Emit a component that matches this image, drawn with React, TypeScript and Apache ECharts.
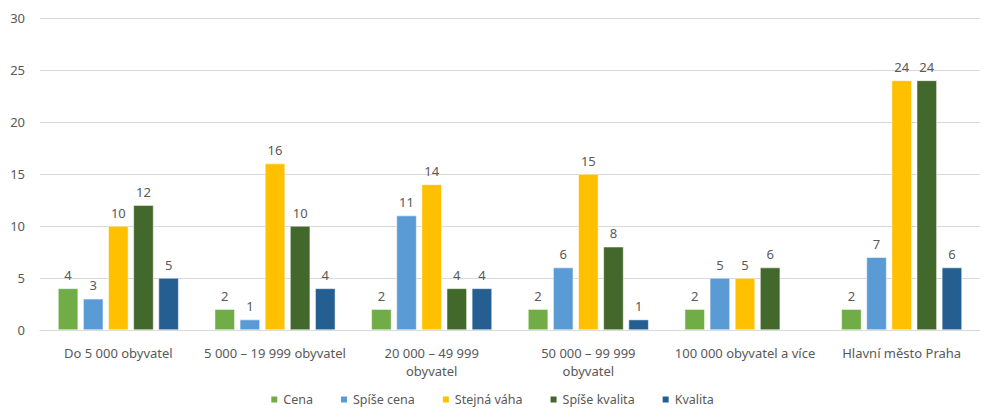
import React, { useEffect, useRef } from "react";
import * as echarts from "echarts";

const categories = [
  "Do 5 000 obyvatel",
  "5 000 – 19 999 obyvatel",
  "20 000 – 49 999\nobyvatel",
  "50 000 – 99 999\nobyvatel",
  "100 000 obyvatel a více",
  "Hlavní město Praha",
];
const seriesNames = ["Cena", "Spíše cena", "Stejná váha", "Spíše kvalita", "Kvalita"];
const cena = [4, 2, 2, 2, 2, 2];
const spiseCena = [3, 1, 11, 6, 5, 7];
const stejnaVaha = [10, 16, 14, 15, 5, 24];
const spiseKvalita = [12, 10, 4, 8, 6, 24];
const kvalita: (number | null)[] = [5, 4, 4, 1, null, 6];
const colors = ["#70AD47", "#5B9BD5", "#FFC000", "#43682B", "#255E91"];

const FONT = "'Noto Sans', 'Open Sans', sans-serif";

export default function App() {
  const ref = useRef<HTMLDivElement>(null);
  useEffect(() => {
    document.body.style.margin = "0";
    if (!ref.current) return;
    const chart = echarts.init(ref.current, undefined, { renderer: "svg" });
    const values = [cena, spiseCena, stejnaVaha, spiseKvalita, kvalita];
    chart.setOption({
      animation: false,
      textStyle: { fontFamily: FONT },
      grid: { left: 40, right: 3, top: 18, bottom: 81, containLabel: false },
      legend: {
        bottom: 0,
        left: "center",
        itemWidth: 8,
        itemHeight: 8,
        itemGap: 26,
        itemTextGap: 4,
        icon: "rect",
        textStyle: { color: "#595959", fontSize: 12.5, fontFamily: FONT },
        data: seriesNames,
      },
      xAxis: {
        type: "category",
        data: categories,
        axisLine: { lineStyle: { color: "#D9D9D9" } },
        axisTick: { show: false },
        axisLabel: { color: "#595959", fontSize: 13, margin: 14, interval: 0, lineHeight: 18 },
      },
      yAxis: {
        type: "value",
        min: 0,
        max: 30,
        interval: 5,
        axisLine: { show: false },
        axisTick: { show: false },
        splitLine: { lineStyle: { color: "#D9D9D9" } },
        axisLabel: { color: "#595959", fontSize: 13, margin: 15 },
      },
      series: seriesNames.map((name, i) => ({
        name,
        type: "bar",
        data: values[i],
        barGap: "25%",
        barCategoryGap: "23%",
        itemStyle: { color: colors[i], borderColor: "#ffffff", borderWidth: 0.5 },
        label: {
          show: true,
          position: "top",
          color: "#595959",
          fontSize: 13,
          distance: 7,
        },
      })),
    });
    return () => chart.dispose();
  }, []);
  return <div ref={ref} style={{ width: 983, height: 411 }} />;
}
